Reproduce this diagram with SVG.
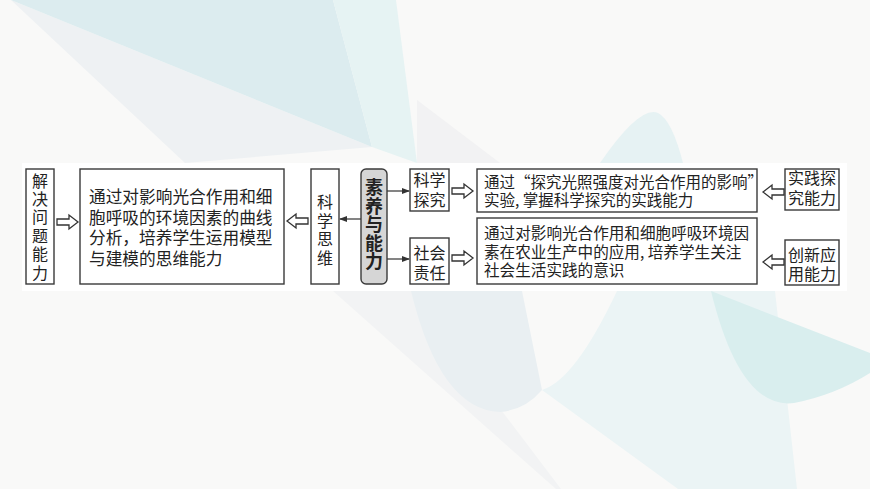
<svg xmlns="http://www.w3.org/2000/svg" xmlns:xlink="http://www.w3.org/1999/xlink" width="870" height="489" viewBox="0 0 870 489">
<style>
.box{fill:#ffffff;stroke:#3a3a3a;stroke-width:1.4}
.t{font-family:"Noto Sans CJK SC","Noto Sans",sans-serif;fill:#222;font-size:16px}
.tc{text-anchor:middle}
.ln{stroke:#333;stroke-width:1.2;fill:none}
.ha{fill:#fff;stroke:#333;stroke-width:1.3;stroke-linejoin:miter}
</style>
<defs>
<path id="harrow" d="M0,-3 H12 V-7 L21,0 L12,7 V3 H0 Z"/>
<marker id="ah" markerWidth="8" markerHeight="6" refX="7" refY="3" orient="auto" markerUnits="userSpaceOnUse">
<path d="M0,0 L8,3 L0,6 Z" fill="#333"/>
</marker>
</defs>
<g id="background">
<rect x="0" y="0" width="870" height="489" fill="#f9f9f8"/>
<polygon points="11,0 185,163 372,147" fill="#eef1f3"/>
<polygon points="11,0 333,0 372,147" fill="#dcecef"/>
<polygon points="333,0 396,0 417,163 372,147" fill="#e6f3f3"/>
<polygon points="417,100 500,163 417,163" fill="#f2f2f3"/>
<path d="M600,163 Q640,105 658,113 Q672,120 683,163 Z" fill="#e6f2f3"/>
<polygon points="333,291 411,291 561,489 556,489" fill="#f2f3f4"/>
<path d="M411,291 Q440,410 500,412 Q525,410 542,390 L522,291 Z" fill="#e9eff2"/>
<path d="M617,291 Q575,380 542,390 L678,489 L797,489 L775,291 Z" fill="#ebf4f5"/>
<path d="M711,291 Q740,410 794,403 Q835,395 870,373 L870,353 Z" fill="#d9eeee"/>
<rect x="22" y="163" width="825" height="128" fill="#ffffff"/>
</g>
<g id="connectors">
<use href="#harrow" class="ha" transform="translate(57,222)"/>
<use href="#harrow" class="ha" transform="translate(308,221) scale(-1,1)"/>
<line class="ln" x1="361" y1="219" x2="340" y2="219" marker-end="url(#ah)"/>
<line class="ln" x1="387" y1="191" x2="409" y2="191" marker-end="url(#ah)"/>
<line class="ln" x1="387" y1="259" x2="409" y2="259" marker-end="url(#ah)"/>
<use href="#harrow" class="ha" transform="translate(452,191)"/>
<use href="#harrow" class="ha" transform="translate(452,258)"/>
<use href="#harrow" class="ha" transform="translate(784,192) scale(-1,1)"/>
<use href="#harrow" class="ha" transform="translate(784,262) scale(-1,1)"/>
</g>
<g id="n1">
<rect class="box" x="26" y="169" width="28" height="115"/>
<text class="t tc" x="40" y="186.5">解<tspan x="40" dy="18.4">决</tspan><tspan x="40" dy="18.4">问</tspan><tspan x="40" dy="18.4">题</tspan><tspan x="40" dy="18.4">能</tspan><tspan x="40" dy="18.4">力</tspan></text>
</g>
<g id="n2">
<rect class="box" x="80" y="169" width="204" height="115"/>
<text class="t" style="font-size:16.7px" x="89" y="203">通过对影响光合作用和细<tspan x="89" dy="20.5">胞呼吸的环境因素的曲线</tspan><tspan x="89" dy="20.5">分析，培养学生运用模型</tspan><tspan x="89" dy="20.5">与建模的思维能力</tspan></text>
</g>
<g id="n3">
<rect class="box" x="311" y="169" width="28" height="115"/>
<text class="t tc" x="325" y="208">科<tspan x="325" dy="18.7">学</tspan><tspan x="325" dy="18.7">思</tspan><tspan x="325" dy="18.7">维</tspan></text>
</g>
<g id="n4">
<rect x="361" y="169" width="26" height="115" rx="5" fill="#d6d6d6" stroke="#3a3a3a" stroke-width="1.4"/>
<text class="t tc" style="font-size:18px;font-weight:bold" x="374" y="194">素<tspan x="374" dy="18.6">养</tspan><tspan x="374" dy="18.6">与</tspan><tspan x="374" dy="18.6">能</tspan><tspan x="374" dy="18.6">力</tspan></text>
</g>
<g id="n5">
<rect class="box" x="410" y="169" width="39" height="42"/>
<text class="t tc" x="429.5" y="186">科学<tspan x="429.5" dy="20">探究</tspan></text>
</g>
<g id="n6">
<rect class="box" x="410" y="238" width="39" height="46"/>
<text class="t tc" x="429.5" y="259">社会<tspan x="429.5" dy="20">责任</tspan></text>
</g>
<g id="n7">
<rect class="box" x="477" y="169" width="280" height="43"/>
<text class="t" style="font-size:15.5px" x="484" y="188">通过“探究光照强度对光合作用的影响”<tspan x="484" dy="17.5">实验, 掌握科学探究的实践能力</tspan></text>
</g>
<g id="n8">
<rect class="box" x="477" y="218" width="280" height="66"/>
<text class="t" style="font-size:15.6px" x="484" y="239">通过对影响光合作用和细胞呼吸环境因<tspan x="484" dy="18.5">素在农业生产中的应用, 培养学生关注</tspan><tspan x="484" dy="18.5">社会生活实践的意识</tspan></text>
</g>
<g id="n9">
<rect class="box" x="785" y="169" width="54" height="41"/>
<text class="t tc" x="812" y="184">实践探<tspan x="812" dy="20">究能力</tspan></text>
</g>
<g id="n10">
<rect class="box" x="785" y="240" width="54" height="45"/>
<text class="t tc" x="812" y="261">创新应<tspan x="812" dy="19">用能力</tspan></text>
</g>
</svg>
